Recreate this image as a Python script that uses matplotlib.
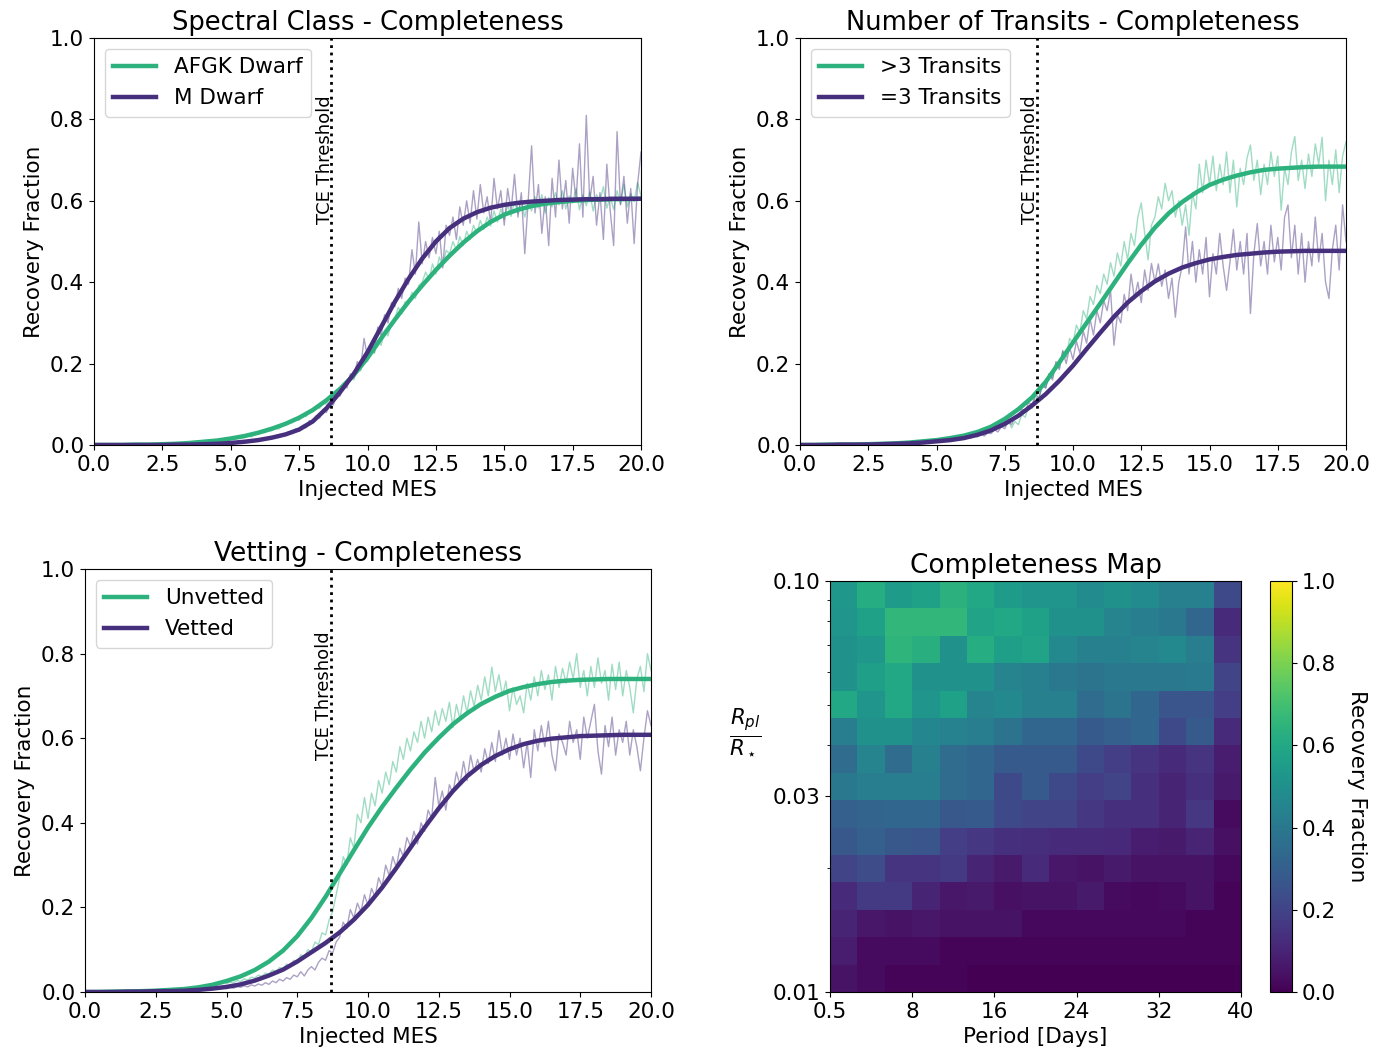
import numpy as np
import matplotlib.pyplot as plt
from matplotlib.ticker import NullFormatter

# ---- data ----
mes_fit = np.linspace(0, 20, 41)
mes_bins = np.arange(5.0, 20.001, 0.125)
tce_threshold = 8.68

afgk_fit = [0.000, 0.000, 0.000, 0.001, 0.001, 0.002, 0.003, 0.005, 0.008, 0.011,
            0.016, 0.022, 0.030, 0.040, 0.052, 0.067, 0.086, 0.110, 0.138, 0.172,
            0.214, 0.262, 0.308, 0.352, 0.392, 0.430, 0.465, 0.497, 0.525, 0.548,
            0.566, 0.578, 0.587, 0.593, 0.597, 0.600, 0.602, 0.603, 0.604, 0.604, 0.605]
mdwarf_fit = [0.000, 0.000, 0.000, 0.000, 0.000, 0.000, 0.001, 0.001, 0.002, 0.003,
              0.005, 0.008, 0.012, 0.018, 0.026, 0.038, 0.058, 0.090, 0.130, 0.175,
              0.228, 0.290, 0.352, 0.408, 0.458, 0.500, 0.533, 0.556, 0.572, 0.583,
              0.590, 0.595, 0.598, 0.600, 0.602, 0.603, 0.604, 0.604, 0.605, 0.605, 0.605]
gt3_fit = [0.000, 0.000, 0.001, 0.001, 0.001, 0.002, 0.003, 0.004, 0.006, 0.009,
           0.012, 0.017, 0.023, 0.032, 0.045, 0.064, 0.088, 0.117, 0.155, 0.203,
           0.252, 0.300, 0.348, 0.397, 0.446, 0.492, 0.534, 0.569, 0.597, 0.620,
           0.639, 0.652, 0.662, 0.670, 0.676, 0.679, 0.681, 0.683, 0.684, 0.684, 0.684]
eq3_fit = [0.000, 0.000, 0.000, 0.001, 0.001, 0.001, 0.002, 0.003, 0.004, 0.006,
           0.009, 0.012, 0.017, 0.025, 0.036, 0.052, 0.072, 0.097, 0.125, 0.158,
           0.195, 0.236, 0.276, 0.315, 0.350, 0.378, 0.402, 0.421, 0.436, 0.447,
           0.456, 0.462, 0.467, 0.470, 0.473, 0.475, 0.476, 0.477, 0.477, 0.477, 0.477]
unvet_fit = [0.000, 0.000, 0.001, 0.001, 0.002, 0.003, 0.005, 0.007, 0.011, 0.017,
             0.026, 0.037, 0.052, 0.072, 0.098, 0.132, 0.175, 0.225, 0.280, 0.335,
             0.389, 0.438, 0.483, 0.526, 0.566, 0.601, 0.633, 0.659, 0.681, 0.698,
             0.712, 0.721, 0.728, 0.733, 0.736, 0.738, 0.739, 0.740, 0.740, 0.740, 0.740]
vet_fit = [0.000, 0.000, 0.000, 0.001, 0.001, 0.002, 0.002, 0.003, 0.005, 0.008,
           0.012, 0.018, 0.027, 0.039, 0.053, 0.072, 0.094, 0.116, 0.141, 0.171,
           0.206, 0.247, 0.293, 0.341, 0.389, 0.434, 0.475, 0.510, 0.537, 0.558,
           0.574, 0.586, 0.594, 0.599, 0.602, 0.605, 0.606, 0.607, 0.608, 0.608, 0.608]

# binned recovery fractions, MES 5.0 .. 20.0 in steps of 0.125
afgk_obs = [0.015, 0.017, 0.016, 0.019, 0.018, 0.022, 0.020, 0.025,
            0.027, 0.032, 0.030, 0.036, 0.035, 0.041, 0.039, 0.046,
            0.050, 0.056, 0.055, 0.063, 0.061, 0.072, 0.070, 0.080,
            0.082, 0.093, 0.090, 0.104, 0.100, 0.118, 0.112, 0.131,
            0.135, 0.152, 0.148, 0.170, 0.160, 0.190, 0.182, 0.212,
            0.205, 0.238, 0.225, 0.255, 0.245, 0.282, 0.268, 0.300,
            0.310, 0.338, 0.322, 0.352, 0.345, 0.375, 0.360, 0.392,
            0.400, 0.425, 0.405, 0.445, 0.420, 0.462, 0.440, 0.478,
            0.470, 0.500, 0.478, 0.512, 0.490, 0.525, 0.505, 0.540,
            0.520, 0.552, 0.530, 0.560, 0.538, 0.575, 0.548, 0.580,
            0.555, 0.590, 0.562, 0.598, 0.570, 0.600, 0.560, 0.595,
            0.575, 0.610, 0.582, 0.615, 0.570, 0.608, 0.585, 0.620,
            0.590, 0.625, 0.580, 0.612, 0.595, 0.630, 0.578, 0.615,
            0.588, 0.622, 0.575, 0.615, 0.600, 0.635, 0.582, 0.610,
            0.578, 0.625, 0.592, 0.640, 0.585, 0.618, 0.598, 0.645,
            0.612]
mdwarf_obs = [0.004, 0.006, 0.005, 0.008, 0.006, 0.010, 0.008, 0.012,
              0.010, 0.015, 0.013, 0.019, 0.016, 0.022, 0.018, 0.027,
              0.024, 0.032, 0.028, 0.040, 0.034, 0.048, 0.042, 0.060,
              0.055, 0.072, 0.066, 0.088, 0.080, 0.105, 0.098, 0.125,
              0.120, 0.150, 0.140, 0.175, 0.165, 0.205, 0.190, 0.262,
              0.215, 0.245, 0.228, 0.290, 0.268, 0.320, 0.300, 0.350,
              0.340, 0.385, 0.360, 0.410, 0.395, 0.480, 0.420, 0.548,
              0.445, 0.500, 0.460, 0.510, 0.470, 0.525, 0.435, 0.540,
              0.515, 0.560, 0.505, 0.585, 0.540, 0.600, 0.545, 0.625,
              0.555, 0.640, 0.570, 0.610, 0.545, 0.655, 0.580, 0.625,
              0.540, 0.630, 0.575, 0.665, 0.560, 0.620, 0.470, 0.600,
              0.735, 0.570, 0.640, 0.520, 0.610, 0.490, 0.655, 0.560,
              0.700, 0.580, 0.650, 0.545, 0.680, 0.600, 0.740, 0.560,
              0.810, 0.600, 0.660, 0.540, 0.620, 0.505, 0.690, 0.575,
              0.490, 0.770, 0.590, 0.660, 0.545, 0.630, 0.495, 0.640,
              0.720]
gt3_obs = [0.010, 0.013, 0.011, 0.015, 0.012, 0.017, 0.014, 0.019,
           0.018, 0.024, 0.020, 0.028, 0.024, 0.032, 0.027, 0.036,
           0.034, 0.045, 0.040, 0.055, 0.046, 0.062, 0.042, 0.058,
           0.050, 0.075, 0.068, 0.095, 0.090, 0.120, 0.112, 0.145,
           0.140, 0.175, 0.165, 0.200, 0.190, 0.230, 0.215, 0.262,
           0.250, 0.295, 0.275, 0.330, 0.310, 0.365, 0.345, 0.392,
           0.372, 0.420, 0.395, 0.448, 0.415, 0.472, 0.440, 0.500,
           0.455, 0.520, 0.490, 0.560, 0.595, 0.520, 0.455, 0.540,
           0.560, 0.610, 0.580, 0.643, 0.600, 0.625, 0.560, 0.600,
           0.540, 0.590, 0.515, 0.620, 0.580, 0.690, 0.620, 0.700,
           0.640, 0.710, 0.625, 0.690, 0.640, 0.720, 0.620, 0.700,
           0.585, 0.680, 0.640, 0.705, 0.737, 0.650, 0.700, 0.615,
           0.690, 0.640, 0.720, 0.660, 0.710, 0.577, 0.680, 0.640,
           0.720, 0.758, 0.650, 0.700, 0.630, 0.715, 0.660, 0.740,
           0.690, 0.756, 0.600, 0.700, 0.640, 0.725, 0.620, 0.710,
           0.745]
eq3_obs = [0.008, 0.010, 0.009, 0.012, 0.010, 0.014, 0.012, 0.016,
           0.014, 0.020, 0.017, 0.024, 0.020, 0.028, 0.022, 0.030,
           0.028, 0.038, 0.032, 0.045, 0.040, 0.058, 0.050, 0.068,
           0.070, 0.088, 0.082, 0.105, 0.098, 0.125, 0.115, 0.150,
           0.140, 0.175, 0.160, 0.205, 0.185, 0.232, 0.200, 0.240,
           0.210, 0.255, 0.225, 0.280, 0.250, 0.310, 0.270, 0.330,
           0.300, 0.355, 0.330, 0.380, 0.245, 0.320, 0.300, 0.370,
           0.330, 0.420, 0.360, 0.400, 0.350, 0.430, 0.380, 0.446,
           0.400, 0.445, 0.390, 0.430, 0.360, 0.410, 0.314, 0.400,
           0.440, 0.536, 0.420, 0.500, 0.400, 0.480, 0.420, 0.510,
           0.364, 0.470, 0.420, 0.520, 0.440, 0.380, 0.450, 0.530,
           0.430, 0.500, 0.420, 0.520, 0.323, 0.470, 0.544, 0.440,
           0.500, 0.420, 0.540, 0.450, 0.510, 0.430, 0.560, 0.590,
           0.460, 0.540, 0.420, 0.520, 0.400, 0.500, 0.440, 0.560,
           0.450, 0.520, 0.400, 0.360, 0.480, 0.540, 0.430, 0.590,
           0.500]
unvet_obs = [0.020, 0.023, 0.022, 0.027, 0.025, 0.031, 0.028, 0.035,
             0.033, 0.040, 0.037, 0.045, 0.042, 0.052, 0.048, 0.058,
             0.055, 0.066, 0.062, 0.075, 0.070, 0.088, 0.082, 0.100,
             0.095, 0.118, 0.112, 0.140, 0.135, 0.170, 0.190, 0.230,
             0.270, 0.320, 0.300, 0.365, 0.340, 0.420, 0.400, 0.460,
             0.410, 0.470, 0.440, 0.500, 0.470, 0.520, 0.490, 0.545,
             0.520, 0.580, 0.550, 0.600, 0.570, 0.615, 0.590, 0.640,
             0.600, 0.650, 0.615, 0.665, 0.630, 0.670, 0.640, 0.685,
             0.625, 0.680, 0.645, 0.700, 0.660, 0.712, 0.675, 0.725,
             0.690, 0.745, 0.700, 0.768, 0.710, 0.750, 0.700, 0.735,
             0.665, 0.720, 0.680, 0.700, 0.660, 0.730, 0.690, 0.745,
             0.700, 0.760, 0.715, 0.750, 0.690, 0.770, 0.720, 0.765,
             0.730, 0.780, 0.740, 0.800, 0.720, 0.760, 0.700, 0.770,
             0.720, 0.790, 0.730, 0.760, 0.690, 0.775, 0.715, 0.780,
             0.700, 0.760, 0.720, 0.660, 0.740, 0.770, 0.710, 0.800,
             0.760]
vet_obs = [0.008, 0.011, 0.009, 0.013, 0.011, 0.015, 0.012, 0.017,
           0.014, 0.019, 0.016, 0.022, 0.018, 0.026, 0.022, 0.030,
           0.026, 0.034, 0.030, 0.040, 0.036, 0.048, 0.038, 0.052,
           0.060, 0.052, 0.070, 0.080, 0.075, 0.098, 0.092, 0.118,
           0.130, 0.165, 0.150, 0.195, 0.175, 0.210, 0.190, 0.230,
           0.205, 0.245, 0.225, 0.270, 0.250, 0.300, 0.275, 0.320,
           0.295, 0.340, 0.320, 0.365, 0.345, 0.380, 0.350, 0.400,
           0.380, 0.430, 0.410, 0.507, 0.440, 0.475, 0.430, 0.490,
           0.470, 0.520, 0.490, 0.545, 0.500, 0.560, 0.520, 0.550,
           0.520, 0.575, 0.540, 0.590, 0.545, 0.618, 0.560, 0.600,
           0.550, 0.610, 0.560, 0.600, 0.530, 0.590, 0.507, 0.620,
           0.570, 0.630, 0.580, 0.640, 0.560, 0.523, 0.610, 0.590,
           0.560, 0.640, 0.590, 0.620, 0.550, 0.650, 0.600, 0.640,
           0.680, 0.570, 0.515, 0.630, 0.580, 0.650, 0.560, 0.620,
           0.590, 0.640, 0.560, 0.620, 0.580, 0.523, 0.600, 0.665,
           0.630]

# completeness map: rows from Rp/R* = 0.10 (top) down to 0.01 (bottom)
period_labels = ["0.5", "8", "16", "24", "32", "40"]
comp_map = [
    [0.53, 0.62, 0.55, 0.57, 0.64, 0.60, 0.55, 0.52, 0.52, 0.48, 0.50, 0.48, 0.43, 0.43, 0.22],
    [0.52, 0.57, 0.66, 0.66, 0.66, 0.58, 0.60, 0.57, 0.50, 0.50, 0.45, 0.42, 0.40, 0.33, 0.12],
    [0.50, 0.53, 0.65, 0.63, 0.50, 0.62, 0.56, 0.58, 0.47, 0.43, 0.43, 0.45, 0.47, 0.42, 0.15],
    [0.50, 0.56, 0.60, 0.50, 0.50, 0.50, 0.45, 0.43, 0.40, 0.38, 0.40, 0.40, 0.40, 0.41, 0.20],
    [0.60, 0.52, 0.60, 0.52, 0.57, 0.45, 0.47, 0.43, 0.43, 0.35, 0.38, 0.33, 0.26, 0.26, 0.18],
    [0.42, 0.50, 0.50, 0.46, 0.44, 0.42, 0.38, 0.33, 0.33, 0.28, 0.30, 0.33, 0.22, 0.28, 0.12],
    [0.35, 0.45, 0.35, 0.43, 0.35, 0.33, 0.28, 0.28, 0.28, 0.22, 0.18, 0.15, 0.12, 0.15, 0.08],
    [0.40, 0.42, 0.42, 0.42, 0.35, 0.33, 0.22, 0.28, 0.22, 0.18, 0.20, 0.14, 0.10, 0.14, 0.07],
    [0.30, 0.32, 0.33, 0.33, 0.27, 0.28, 0.22, 0.20, 0.20, 0.16, 0.14, 0.14, 0.10, 0.16, 0.03],
    [0.27, 0.30, 0.27, 0.26, 0.18, 0.16, 0.14, 0.13, 0.12, 0.12, 0.11, 0.08, 0.07, 0.10, 0.04],
    [0.20, 0.23, 0.15, 0.15, 0.17, 0.10, 0.07, 0.12, 0.06, 0.05, 0.07, 0.05, 0.05, 0.05, 0.02],
    [0.12, 0.17, 0.17, 0.10, 0.06, 0.07, 0.04, 0.05, 0.05, 0.07, 0.03, 0.02, 0.03, 0.05, 0.01],
    [0.10, 0.06, 0.05, 0.06, 0.05, 0.05, 0.05, 0.02, 0.02, 0.02, 0.02, 0.02, 0.02, 0.01, 0.01],
    [0.08, 0.03, 0.03, 0.03, 0.01, 0.01, 0.01, 0.01, 0.01, 0.01, 0.01, 0.01, 0.01, 0.01, 0.01],
    [0.05, 0.03, 0.01, 0.01, 0.01, 0.00, 0.00, 0.00, 0.00, 0.00, 0.00, 0.00, 0.00, 0.00, 0.00],
]

green = "#2db27d"
purple = "#46307e"

fs_tick = 15.5
fs_lab = 15.5
fs_title = 18.5

fig = plt.figure(figsize=(13.85, 10.51), dpi=100)
W, H = 1385.0, 1051.0


def px_axes(left, top, right, bottom):
    return fig.add_axes([left / W, 1 - bottom / H, (right - left) / W, (bottom - top) / H])


def completeness_panel(ax, title, labels, fits, obs, tsize):
    for o, c in zip(obs, [green, purple]):
        ax.plot(mes_bins, o, color=c, lw=1, alpha=0.45)
    for f, c, lab in zip(fits, [green, purple], labels):
        ax.plot(mes_fit, f, color=c, lw=3.2, label=lab)
    ax.axvline(tce_threshold, color="black", ls=":", lw=2)
    ax.text(tce_threshold + 0.08, 0.70, "TCE Threshold", rotation=90,
            ha="right", va="center", fontsize=13)
    ax.set_xlim(0, 20)
    ax.set_ylim(0, 1)
    ax.set_xlabel("Injected MES", fontsize=fs_lab)
    ax.set_ylabel("Recovery Fraction", fontsize=fs_lab)
    ax.set_title(title, fontsize=tsize)
    ax.tick_params(labelsize=fs_tick)
    ax.legend(loc="upper left", fontsize=fs_lab)


ax1 = px_axes(94, 38, 641, 445)
completeness_panel(ax1, "Spectral Class - Completeness", ["AFGK Dwarf", "M Dwarf"],
                   [afgk_fit, mdwarf_fit], [afgk_obs, mdwarf_obs], fs_title)

ax2 = px_axes(800, 38, 1346, 445)
completeness_panel(ax2, "Number of Transits - Completeness", [">3 Transits", "=3 Transits"],
                   [gt3_fit, eq3_fit], [gt3_obs, eq3_obs], fs_title)

ax3 = px_axes(85, 569, 651, 992)
completeness_panel(ax3, "Vetting - Completeness", ["Unvetted", "Vetted"],
                   [unvet_fit, vet_fit], [unvet_obs, vet_obs], 19)

# completeness map
ax4 = px_axes(830, 581, 1241, 992)
grid = np.flipud(np.array(comp_map))
x_edges = np.arange(grid.shape[1] + 1)
y_edges = np.logspace(-2, -1, grid.shape[0] + 1)
mesh = ax4.pcolormesh(x_edges, y_edges, grid, cmap="viridis", vmin=0, vmax=1)
ax4.set_yscale("log")
ax4.set_ylim(0.01, 0.1)
ax4.set_yticks([0.01, 0.03, 0.1])
ax4.set_yticklabels(["0.01", "0.03", "0.10"])
ax4.yaxis.set_minor_formatter(NullFormatter())
ax4.set_xticks(np.linspace(0, grid.shape[1], len(period_labels)))
ax4.set_xticklabels(period_labels)
ax4.set_xlim(0, grid.shape[1])
ax4.tick_params(labelsize=fs_tick)
ax4.set_xlabel("Period [Days]", fontsize=fs_lab)
ax4.set_ylabel(r"$\frac{R_{pl}}{R_\star}$", fontsize=22, rotation=0)
ax4.yaxis.set_label_coords(-0.205, 0.57)
ax4.set_title("Completeness Map", fontsize=19)

cax = px_axes(1270, 581, 1292, 992)
cb = fig.colorbar(mesh, cax=cax)
cb.set_ticks([0.0, 0.2, 0.4, 0.6, 0.8, 1.0])
cb.ax.tick_params(labelsize=fs_tick)
cb.set_label("Recovery Fraction", fontsize=fs_lab, rotation=270, labelpad=22)

fig.savefig("out.png", dpi=100)
